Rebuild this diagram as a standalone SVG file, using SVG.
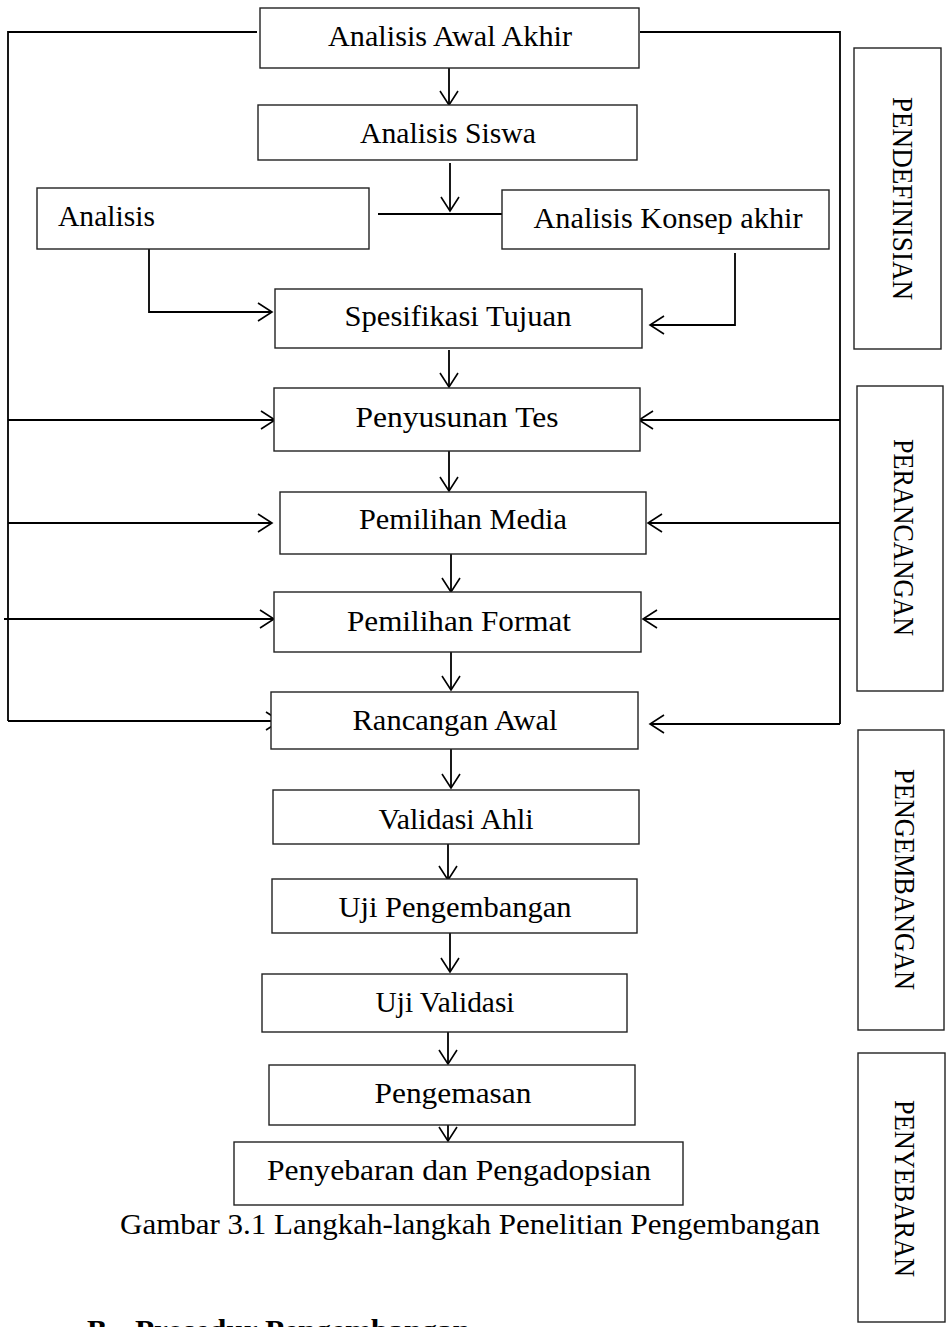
<svg xmlns="http://www.w3.org/2000/svg" width="949" height="1327" viewBox="0 0 949 1327">
<style>
.box{fill:#fff;stroke:#222;stroke-width:1.4}
.t{font-family:"Liberation Serif",serif;font-size:29.5px;fill:#000;text-anchor:middle}
.tl{font-family:"Liberation Serif",serif;font-size:29.5px;fill:#000}
.s{font-family:"Liberation Serif",serif;font-size:30px;fill:#000;text-anchor:middle}
.c{fill:none;stroke:#000;stroke-width:1.8}
</style>
<defs>
<marker id="a" markerWidth="17" markerHeight="22" refX="15" refY="11" orient="auto" markerUnits="userSpaceOnUse">
<polyline points="1,2 15,11 1,20" fill="none" stroke="#000" stroke-width="1.6"/>
</marker>
</defs>
<rect width="949" height="1327" fill="#fff"/>
<g id="connectors">
<polyline class="c" points="257,32 8,32 8,721"/>
<polyline class="c" points="640,32 840,32 840,724"/>
<line class="c" x1="449" y1="68" x2="449" y2="105" marker-end="url(#a)"/>
<line class="c" x1="450" y1="163" x2="450" y2="211" marker-end="url(#a)"/>
<line class="c" x1="378" y1="214" x2="502" y2="214"/>
<polyline class="c" points="149,249 149,312 272,312" marker-end="url(#a)"/>
<polyline class="c" points="735,253 735,325 650,325" marker-end="url(#a)"/>
<line class="c" x1="449" y1="350" x2="449" y2="387" marker-end="url(#a)"/>
<line class="c" x1="8" y1="420" x2="275" y2="420" marker-end="url(#a)"/>
<line class="c" x1="840" y1="420" x2="639" y2="420" marker-end="url(#a)"/>
<line class="c" x1="449" y1="451" x2="449" y2="491" marker-end="url(#a)"/>
<line class="c" x1="8" y1="523" x2="272" y2="523" marker-end="url(#a)"/>
<line class="c" x1="840" y1="523" x2="648" y2="523" marker-end="url(#a)"/>
<line class="c" x1="451" y1="554" x2="451" y2="592" marker-end="url(#a)"/>
<line class="c" x1="4" y1="619" x2="274" y2="619" marker-end="url(#a)"/>
<line class="c" x1="840" y1="619" x2="643" y2="619" marker-end="url(#a)"/>
<line class="c" x1="451" y1="652" x2="451" y2="690" marker-end="url(#a)"/>
<line class="c" x1="8" y1="721" x2="280" y2="721" marker-end="url(#a)"/>
<line class="c" x1="840" y1="724" x2="650" y2="724" marker-end="url(#a)"/>
<line class="c" x1="451" y1="749" x2="451" y2="788" marker-end="url(#a)"/>
<line class="c" x1="448" y1="844" x2="448" y2="880" marker-end="url(#a)"/>
<line class="c" x1="450" y1="933" x2="450" y2="972" marker-end="url(#a)"/>
<line class="c" x1="448" y1="1032" x2="448" y2="1064" marker-end="url(#a)"/>
<line class="c" x1="448" y1="1111" x2="448" y2="1141" marker-end="url(#a)"/>
</g>
<g id="n1"><rect class="box" x="260" y="8" width="379" height="60"/><text class="t" x="450" y="46" textLength="244" lengthAdjust="spacingAndGlyphs">Analisis Awal Akhir</text></g>
<g id="n2"><rect class="box" x="258" y="105" width="379" height="55"/><text class="t" x="448" y="143" textLength="176" lengthAdjust="spacingAndGlyphs">Analisis Siswa</text></g>
<g id="n3"><rect class="box" x="37" y="188" width="332" height="61"/><text class="tl" x="58" y="226" textLength="97" lengthAdjust="spacingAndGlyphs">Analisis</text></g>
<g id="n4"><rect class="box" x="502" y="190" width="327" height="59"/><text class="t" x="668" y="228" textLength="269" lengthAdjust="spacingAndGlyphs">Analisis Konsep akhir</text></g>
<g id="n5"><rect class="box" x="275" y="289" width="367" height="59"/><text class="t" x="458" y="326" textLength="227" lengthAdjust="spacingAndGlyphs">Spesifikasi Tujuan</text></g>
<g id="n6"><rect class="box" x="274" y="388" width="366" height="63"/><text class="t" x="457" y="427" textLength="203" lengthAdjust="spacingAndGlyphs">Penyusunan Tes</text></g>
<g id="n7"><rect class="box" x="280" y="492" width="366" height="62"/><text class="t" x="463" y="529" textLength="208" lengthAdjust="spacingAndGlyphs">Pemilihan Media</text></g>
<g id="n8"><rect class="box" x="274" y="592" width="367" height="60"/><text class="t" x="459" y="631" textLength="224" lengthAdjust="spacingAndGlyphs">Pemilihan Format</text></g>
<g id="n9"><rect class="box" x="271" y="692" width="367" height="57"/><text class="t" x="455" y="730" textLength="205" lengthAdjust="spacingAndGlyphs">Rancangan Awal</text></g>
<g id="n10"><rect class="box" x="273" y="790" width="366" height="54"/><text class="t" x="456" y="829" textLength="155" lengthAdjust="spacingAndGlyphs">Validasi Ahli</text></g>
<g id="n11"><rect class="box" x="272" y="879" width="365" height="54"/><text class="t" x="455" y="917" textLength="233" lengthAdjust="spacingAndGlyphs">Uji Pengembangan</text></g>
<g id="n12"><rect class="box" x="262" y="974" width="365" height="58"/><text class="t" x="445" y="1012" textLength="139" lengthAdjust="spacingAndGlyphs">Uji Validasi</text></g>
<g id="n13"><rect class="box" x="269" y="1065" width="366" height="60"/><text class="t" x="453" y="1103" textLength="157" lengthAdjust="spacingAndGlyphs">Pengemasan</text></g>
<g id="n14"><rect class="box" x="234" y="1142" width="449" height="63"/><text class="t" x="459" y="1180" textLength="384" lengthAdjust="spacingAndGlyphs">Penyebaran dan Pengadopsian</text></g>
<text class="t" x="470" y="1234" textLength="700" lengthAdjust="spacingAndGlyphs">Gambar 3.1 Langkah-langkah Penelitian Pengembangan</text>
<g id="side1"><rect class="box" x="854" y="48" width="87" height="301"/><text class="s" transform="translate(893,198.5) rotate(90)" x="0" y="0" textLength="203" lengthAdjust="spacingAndGlyphs">PENDEFINISIAN</text></g>
<g id="side2"><rect class="box" x="857" y="386" width="86" height="305"/><text class="s" transform="translate(894,537.5) rotate(90)" x="0" y="0" textLength="197" lengthAdjust="spacingAndGlyphs">PERANCANGAN</text></g>
<g id="side3"><rect class="box" x="858" y="730" width="86" height="300"/><text class="s" transform="translate(895,879.5) rotate(90)" x="0" y="0" textLength="221" lengthAdjust="spacingAndGlyphs">PENGEMBANGAN</text></g>
<g id="side4"><rect class="box" x="858" y="1053" width="87" height="269"/><text class="s" transform="translate(895,1188.5) rotate(90)" x="0" y="0" textLength="177" lengthAdjust="spacingAndGlyphs">PENYEBARAN</text></g>
<text font-family="Liberation Serif,serif" font-weight="bold" font-size="30" y="1340"><tspan x="87">B.</tspan><tspan x="135" textLength="335" lengthAdjust="spacingAndGlyphs">Prosedur Pengembangan</tspan></text>
</svg>
